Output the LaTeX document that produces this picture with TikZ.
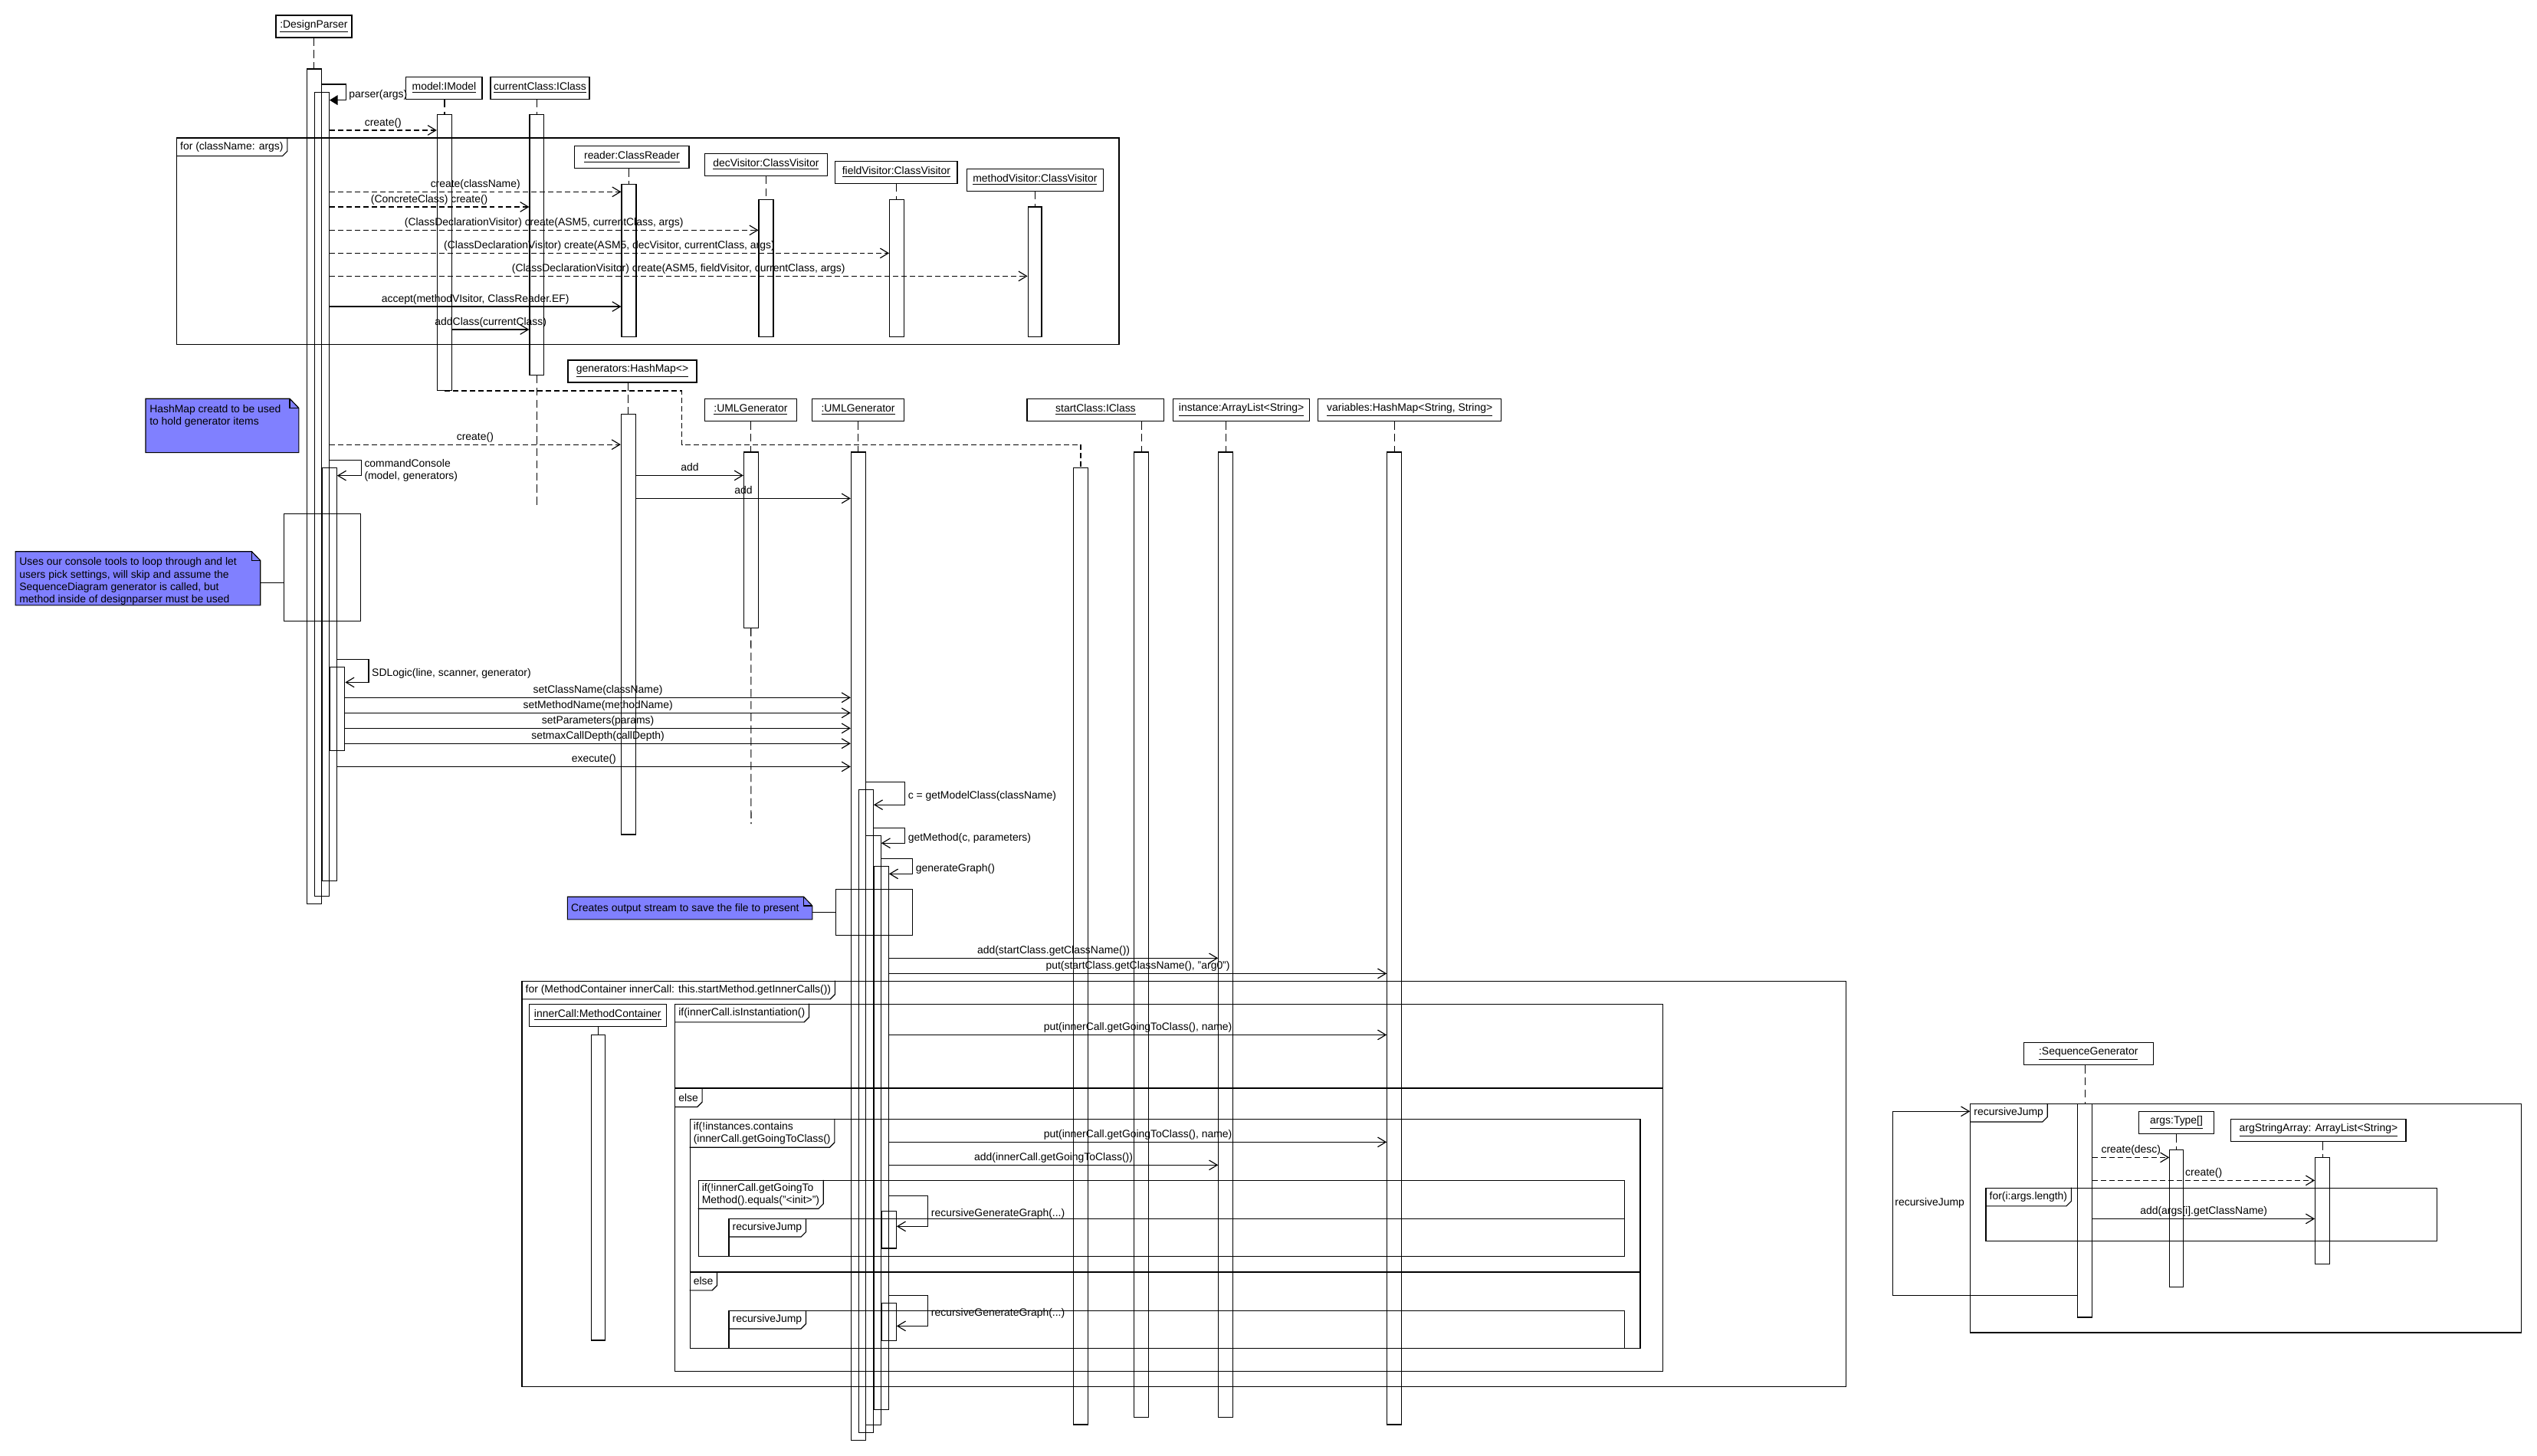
\documentclass[tikz,border=0pt]{standalone}
\usepackage{fontspec}
\setmainfont{Liberation Sans}
\usepackage{tikz}
\usetikzlibrary{arrows.meta, fit}
\definecolor{notefill}{RGB}{128,128,255}
\newcommand{\sdfont}{\fontsize{6.6}{7.6}\selectfont}
\tikzset{
  obj/.style={rectangle, draw, fill=white, inner sep=0pt, minimum height=13.7pt, font=\sdfont},
  act/.style={rectangle, draw, inner sep=0pt},
  life/.style={dash pattern=on 5pt off 2.5pt},
  msg/.style={-{Straight Barb[length=5pt,width=6pt]}},
  retmsg/.style={msg, dash pattern=on 3.3pt off 1.9pt},
  callmsg/.style={-{Triangle[length=5pt,width=6pt]}},
  lbl/.style={font=\sdfont, inner sep=0pt, text height=4.8pt, text depth=1.4pt},
  selflbl/.style={font=\sdfont, inner sep=0pt, anchor=west, align=left, xshift=1.7pt, yshift=-1.6pt},
  frame/.style={rectangle, draw, inner sep=0pt},
  tab/.style={anchor=north west, font=\sdfont, inner xsep=2.2pt, inner ysep=0pt,
              minimum height=10.9pt, align=left},
  sepline/.style={line width=1.1pt},
  note/.style={draw, fill=notefill},
  notetext/.style={font=\sdfont, inner sep=0pt, align=left, anchor=north west}
}
\begin{document}
\begin{tikzpicture}[x=1pt, y=-1pt, line width=0.55pt, font=\sdfont]
  \useasboundingbox (0,0) rectangle (1568,900);
  \fill[white] (0,0) rectangle (1568,900);

  % Combined fragments
  \node[frame, fit={(109.2,85.3) (691.6,212.8)}] (loopA) {};
  \node[tab] (loopAt) at (loopA.north west) {for (className: args)};
  \draw (loopAt.north east) -- ([yshift=3pt]loopAt.south east) -- ([xshift=-3pt]loopAt.south east) -- (loopAt.south west);

  \node[frame, fit={(322.6,606.5) (1141.1,857.1)}] (loopB) {};
  \node[tab] (loopBt) at (loopB.north west) {for (MethodContainer innerCall: this.startMethod.getInnerCalls())};
  \draw (loopBt.north east) -- ([yshift=3pt]loopBt.south east) -- ([xshift=-3pt]loopBt.south east) -- (loopBt.south west);

  \node[frame, fit={(417.2,620.7) (1027.7,847.6)}] (altA) {};
  \node[tab] (altAt) at (altA.north west) {if(innerCall.isInstantiation()};
  \draw (altAt.north east) -- ([yshift=3pt]altAt.south east) -- ([xshift=-3pt]altAt.south east) -- (altAt.south west);
  \draw[sepline] (altA.west |- 0,672.8) -- (altA.east |- 0,672.8);
  \node[tab] (altAe) at (altA.west |- 0,672.8) {else};
  \draw (altAe.north east) -- ([yshift=3pt]altAe.south east) -- ([xshift=-3pt]altAe.south east) -- (altAe.south west);

  \node[frame, fit={(426.4,691.8) (1013.7,833.3)}] (altB) {};
  \node[tab, inner ysep=1.7pt] (altBt) at (altB.north west) {if(!instances.contains\\(innerCall.getGoingToClass()};
  \draw (altBt.north east) -- ([yshift=3pt]altBt.south east) -- ([xshift=-3pt]altBt.south east) -- (altBt.south west);
  \draw[sepline] (altB.west |- 0,786.2) -- (altB.east |- 0,786.2);
  \node[tab] (altBe) at (altB.west |- 0,786.2) {else};
  \draw (altBe.north east) -- ([yshift=3pt]altBe.south east) -- ([xshift=-3pt]altBe.south east) -- (altBe.south west);

  \node[frame, fit={(431.6,729.7) (1004,776.6)}] (optA) {};
  \node[tab, inner ysep=1.7pt] (optAt) at (optA.north west) {if(!innerCall.getGoingTo\\Method().equals("<init>")};
  \draw (optAt.north east) -- ([yshift=3pt]optAt.south east) -- ([xshift=-3pt]optAt.south east) -- (optAt.south west);

  \node[frame, fit={(450.5,753.4) (1004,776.6)}] (refA) {};
  \node[tab] (refAt) at (refA.north west) {recursiveJump};
  \draw (refAt.north east) -- ([yshift=3pt]refAt.south east) -- ([xshift=-3pt]refAt.south east) -- (refAt.south west);

  \node[frame, fit={(450.5,810.2) (1004,833.3)}] (refB) {};
  \node[tab] (refBt) at (refB.north west) {recursiveJump};
  \draw (refBt.north east) -- ([yshift=3pt]refBt.south east) -- ([xshift=-3pt]refBt.south east) -- (refBt.south west);

  \node[frame, fit={(1217.8,682.3) (1558.2,823.8)}] (jump) {};
  \node[tab] (jumpt) at (jump.north west) {recursiveJump};
  \draw (jumpt.north east) -- ([yshift=3pt]jumpt.south east) -- ([xshift=-3pt]jumpt.south east) -- (jumpt.south west);

  \node[frame, fit={(1227.4,734.4) (1506.2,767)}] (loopC) {};
  \node[tab] (loopCt) at (loopC.north west) {for(i:args.length)};
  \draw (loopCt.north east) -- ([yshift=3pt]loopCt.south east) -- ([xshift=-3pt]loopCt.south east) -- (loopCt.south west);

  % Plain boxes
  \node[frame, fit={(175.7,317.7) (223,384)}] (cons) {};
  \node[frame, fit={(516.6,549.7) (563.8,578.1)}] (outbox) {};

  % Activation bars
  \node[act, fit={(189.6,42.6) (198.6,558.7)}] (dpA) {};
  \node[act, fit={(194.4,57.2) (203.4,553.9)}] (dpB) {};
  \node[act, fit={(199.1,289.3) (208.1,544.4)}] (dpC) {};
  \node[act, fit={(204.1,412.3) (213.1,463.9)}] (dpD) {};
  \node[act, fit={(270.2,71) (279.3,241.3)}] (mdA) {};
  \node[act, fit={(327.3,71) (336.1,231.8)}] (ccA) {};
  \node[act, fit={(384.2,113.9) (393.2,208)}] (rdA) {};
  \node[act, fit={(469,123.3) (478,208)}] (dvA) {};
  \node[act, fit={(549.8,123.3) (558.6,208)}] (fvA) {};
  \node[act, fit={(635.3,127.9) (643.8,208)}] (mvA) {};
  \node[act, fit={(383.9,256.1) (392.9,515.9)}] (gnA) {};
  \node[act, fit={(459.7,279.5) (468.6,388.1)}] (u1A) {};
  \node[act, fit={(526,279.5) (535,890.3)}] (u2A) {};
  \node[act, fit={(530.8,488.1) (539.7,885.5)}] (u2B) {};
  \node[act, fit={(535.2,516.5) (544.4,880.8)}] (u2C) {};
  \node[act, fit={(540.2,535.4) (549.2,871.3)}] (u2D) {};
  \node[act, fit={(544.9,748.6) (553.9,771.7)}] (u2E) {};
  \node[act, fit={(544.9,805.4) (553.9,828.7)}] (u2F) {};
  \node[act, fit={(663.5,289) (672.3,880.6)}] (mdB) {};
  \node[act, fit={(700.9,279.5) (709.9,876)}] (scA) {};
  \node[act, fit={(753.1,279.5) (762.1,876)}] (inA) {};
  \node[act, fit={(857.3,279.5) (866.2,880.6)}] (vrA) {};
  \node[act, fit={(365.3,639.8) (374,828.5)}] (icA) {};
  \node[act, fit={(1284,682.5) (1293.1,814.3)}] (sgA) {};
  \node[act, fit={(1341,710.7) (1349.5,795.4)}] (atA) {};
  \node[act, fit={(1430.9,715.5) (1440,781.2)}] (asA) {};

  % Lifeline heads
  \node[obj, minimum width=46.9pt] (dp) at (193.95,16.35) {\underline{:DesignParser}};
  \node[obj, minimum width=47pt] (model) at (274.5,54.35) {\underline{model:IModel}};
  \node[obj, minimum width=61.1pt] (cur) at (333.75,54.35) {\underline{currentClass:IClass}};
  \node[obj, minimum width=70.7pt] (reader) at (390.55,97.1) {\underline{reader:ClassReader}};
  \node[obj, minimum width=75.5pt] (dec) at (473.45,101.8) {\underline{decVisitor:ClassVisitor}};
  \node[obj, minimum width=75.5pt] (field) at (553.95,106.5) {\underline{fieldVisitor:ClassVisitor}};
  \node[obj, minimum width=84.6pt] (meth) at (639.7,111.15) {\underline{methodVisitor:ClassVisitor}};
  \node[obj, minimum width=79.6pt] (gens) at (390.8,229.5) {\underline{generators:HashMap<>}};
  \node[obj, minimum width=56.7pt] (uml1) at (463.95,253.4) {\underline{:UMLGenerator}};
  \node[obj, minimum width=56.7pt] (uml2) at (530.35,253.4) {\underline{:UMLGenerator}};
  \node[obj, minimum width=84.7pt] (start) at (677.15,253.4) {\underline{startClass:IClass}};
  \node[obj, minimum width=84.5pt] (inst) at (767.25,253.4) {\underline{instance:ArrayList<String>}};
  \node[obj, minimum width=113.3pt] (vars) at (871.25,253.4) {\underline{variables:HashMap<String, String>}};
  \node[obj, minimum width=84.8pt] (inner) at (369.4,627.55) {\underline{innerCall:MethodContainer}};
  \node[obj, minimum width=80.1pt] (seq) at (1290.75,651.35) {\underline{:SequenceGenerator}};
  \node[obj, minimum width=46.8pt] (args) at (1345.1,694) {\underline{args:Type[]}};
  \node[obj, minimum width=108.1pt] (asa) at (1432.95,698.75) {\underline{argStringArray: ArrayList<String>}};

  % Lifelines
  \draw[life] (dp.south -| dpA.north) -- (dpA.north);
  \draw[life] (model.south -| mdA.north) -- (mdA.north);
  \draw[life] (cur.south -| ccA.north) -- (ccA.north);
  \draw[life] (reader.south -| rdA.north) -- (rdA.north);
  \draw[life] (dec.south -| dvA.north) -- (dvA.north);
  \draw[life] (field.south -| fvA.north) -- (fvA.north);
  \draw[life] (meth.south -| mvA.north) -- (mvA.north);
  \draw[life] (gens.south -| gnA.north) -- (gnA.north);
  \draw[life] (uml1.south -| u1A.north) -- (u1A.north);
  \draw[life] (uml2.south -| u2A.north) -- (u2A.north);
  \draw[life] (start.south -| scA.north) -- (scA.north);
  \draw[life] (inst.south -| inA.north) -- (inA.north);
  \draw[life] (vars.south -| vrA.north) -- (vrA.north);
  \draw[life] (inner.south -| icA.north) -- (icA.north);
  \draw[life] (seq.south -| sgA.north) -- (sgA.north);
  \draw[life] (args.south -| atA.north) -- (atA.north);
  \draw[life] (asa.south -| asA.north) -- (asA.north);
  \coordinate (ccEnd) at (331.7,312.6);
  \coordinate (u1End) at (464.2,509.3);
  \draw[life] (ccA.south) -- (ccEnd);
  \draw[life] (u1A.south) -- (u1End);
  \coordinate (mdBend) at (421.4,274.8);
  \draw[dash pattern=on 3.3pt off 1.9pt] (mdA.south) -| (mdBend) -| (mdB.north);

  % Messages: set-up
  \draw[callmsg] (dpA.east |- 0,52.1) -- ++(14.9,0) |- node[pos=0.25, selflbl] {parser(args)} (dpB.east |- 0,61.9);
  \draw[retmsg] (dpB.east |- 0,80.5) -- node[above=1pt, lbl] {create()} (mdA.west |- 0,80.5);
  \draw[retmsg] (dpB.east |- 0,118.6) -- node[above=1pt, lbl] {create(className)} (rdA.west |- 0,118.6);
  \draw[retmsg] (dpB.east |- 0,127.9) -- node[above=1pt, lbl] {(ConcreteClass) create()} (ccA.west |- 0,127.9);
  \draw[retmsg] (dpB.east |- 0,142.3) -- node[above=1pt, lbl] {(ClassDeclarationVisitor) create(ASM5, currentClass, args)} (dvA.west |- 0,142.3);
  \draw[retmsg] (dpB.east |- 0,156.5) -- node[above=1pt, lbl] {(ClassDeclarationVisitor) create(ASM5, decVisitor, currentClass, args)} (fvA.west |- 0,156.5);
  \draw[retmsg] (dpB.east |- 0,170.7) -- node[above=1pt, lbl] {(ClassDeclarationVisitor) create(ASM5, fieldVisitor, currentClass, args)} (mvA.west |- 0,170.7);
  \draw[msg] (dpB.east |- 0,189.5) -- node[above=1pt, lbl] {accept(methodVIsitor, ClassReader.EF)} (rdA.west |- 0,189.5);
  \draw[msg] (mdA.east |- 0,203.7) -- node[above=1pt, lbl] {addClass(currentClass)} (ccA.west |- 0,203.7);

  % Messages: generators and console
  \draw[retmsg] (dpB.east |- 0,274.8) -- node[above=1pt, lbl] {create()} (gnA.west |- 0,274.8);
  \draw[msg] (dpB.east |- 0,284.5) -- ++(19.6,0) |- node[pos=0.25, selflbl] {commandConsole\\(model, generators)} (dpC.east |- 0,294);
  \draw[msg] (gnA.east |- 0,293.9) -- node[above=1pt, lbl] {add} (u1A.west |- 0,293.9);
  \draw[msg] (gnA.east |- 0,308.1) -- node[above=1pt, lbl] {add} (u2A.west |- 0,308.1);
  \draw[msg] (dpC.east |- 0,407.5) -- ++(19.5,0) |- node[pos=0.25, selflbl] {SDLogic(line, scanner, generator)} (dpD.east |- 0,421.8);
  \draw[msg] (dpD.east |- 0,431.2) -- node[above=1pt, lbl] {setClassName(className)} (u2A.west |- 0,431.2);
  \draw[msg] (dpD.east |- 0,440.7) -- node[above=1pt, lbl] {setMethodName(methodName)} (u2A.west |- 0,440.7);
  \draw[msg] (dpD.east |- 0,450.2) -- node[above=1pt, lbl] {setParameters(params)} (u2A.west |- 0,450.2);
  \draw[msg] (dpD.east |- 0,459.6) -- node[above=1pt, lbl] {setmaxCallDepth(callDepth)} (u2A.west |- 0,459.6);
  \draw[msg] (dpC.east |- 0,473.9) -- node[above=1pt, lbl] {execute()} (u2A.west |- 0,473.9);

  % Messages: graph generation
  \draw[msg] (u2A.east |- 0,483.3) -- ++(24,0) |- node[pos=0.25, selflbl] {c = getModelClass(className)} (u2B.east |- 0,497.5);
  \draw[msg] (u2B.east |- 0,511.8) -- ++(19.3,0) |- node[pos=0.25, selflbl] {getMethod(c, parameters)} (u2C.east |- 0,521.2);
  \draw[msg] (u2C.east |- 0,530.7) -- ++(19.4,0) |- node[pos=0.25, selflbl] {generateGraph()} (u2D.east |- 0,540.2);
  \draw[msg] (u2D.east |- 0,592.3) -- node[above=1pt, lbl] {add(startClass.getClassName())} (inA.west |- 0,592.3);
  \draw[msg] (u2D.east |- 0,601.8) -- node[above=1pt, lbl] {put(startClass.getClassName(), "arg0")} (vrA.west |- 0,601.8);
  \draw[msg] (u2D.east |- 0,639.7) -- node[above=1pt, lbl] {put(innerCall.getGoingToClass(), name)} (vrA.west |- 0,639.7);
  \draw[msg] (u2D.east |- 0,706) -- node[above=1pt, lbl] {put(innerCall.getGoingToClass(), name)} (vrA.west |- 0,706);
  \draw[msg] (u2D.east |- 0,720.2) -- node[above=1pt, lbl] {add(innerCall.getGoingToClass())} (inA.west |- 0,720.2);
  \draw[msg] (u2D.east |- 0,739.2) -- ++(24.1,0) |- node[pos=0.25, selflbl] {recursiveGenerateGraph(...)} (u2E.east |- 0,758.1);
  \draw[msg] (u2D.east |- 0,800.7) -- ++(24.1,0) |- node[pos=0.25, selflbl] {recursiveGenerateGraph(...)} (u2F.east |- 0,819.7);

  % Messages: sequence generator
  \draw[msg] (sgA.west |- 0,800.7) -- ++(-113.8,0) |- node[pos=0.25, right=1pt, font=\sdfont, inner sep=0pt] {recursiveJump} (jump.west |- 0,687);
  \draw[retmsg] (sgA.east |- 0,715.5) -- node[above=1pt, lbl] {create(desc)} (atA.west |- 0,715.5);
  \draw[retmsg] (sgA.east |- 0,729.7) -- node[above=1pt, lbl] {create()} (asA.west |- 0,729.7);
  \draw[msg] (sgA.east |- 0,753.4) -- node[above=1pt, lbl] {add(args[i].getClassName)} (asA.west |- 0,753.4);

  % Notes
  \node[inner sep=0pt, fit={(90.3,246.7) (184.4,279.5)}] (hnote) {};
  \draw[note] (hnote.north west) -- ([xshift=-5.6pt]hnote.north east) -- ([yshift=-5.8pt]hnote.north east) -- (hnote.south east) -- (hnote.south west) -- cycle;
  \draw ([xshift=-5.6pt]hnote.north east) |- ([yshift=-5.8pt]hnote.north east);
  \node[notetext] (htext) at ([xshift=2.2pt, yshift=-3.4pt]hnote.north west) {HashMap creatd to be used\\to hold generator items};

  \node[inner sep=0pt, fit={(9.8,341.2) (160.7,373.9)}] (cnote) {};
  \draw[note] (cnote.north west) -- ([xshift=-5.4pt]cnote.north east) -- ([yshift=-5.6pt]cnote.north east) -- (cnote.south east) -- (cnote.south west) -- cycle;
  \draw ([xshift=-5.4pt]cnote.north east) |- ([yshift=-5.6pt]cnote.north east);
  \node[notetext] (ctext) at ([xshift=2.2pt, yshift=-3.6pt]cnote.north west) {Uses our console tools to loop through and let\\users pick settings, will skip and assume the\\SequenceDiagram generator is called, but\\method inside of designparser must be used};
  \draw (cnote.east |- 0,360.2) -- (cons.west |- 0,360.2);

  \node[inner sep=0pt, fit={(351,554.6) (501.8,568.1)}] (onote) {};
  \draw[note] (onote.north west) -- ([xshift=-5.4pt]onote.north east) -- ([yshift=-5.6pt]onote.north east) -- (onote.south east) -- (onote.south west) -- cycle;
  \draw ([xshift=-5.4pt]onote.north east) |- ([yshift=-5.6pt]onote.north east);
  \node[font=\sdfont, inner sep=0pt, anchor=west] (otext) at ([xshift=2pt, yshift=-0.3pt]onote.west) {Creates output stream to save the file to present};
  \draw (onote.east |- 0,563.9) -- (outbox.west |- 0,563.9);
\end{tikzpicture}
\end{document}
